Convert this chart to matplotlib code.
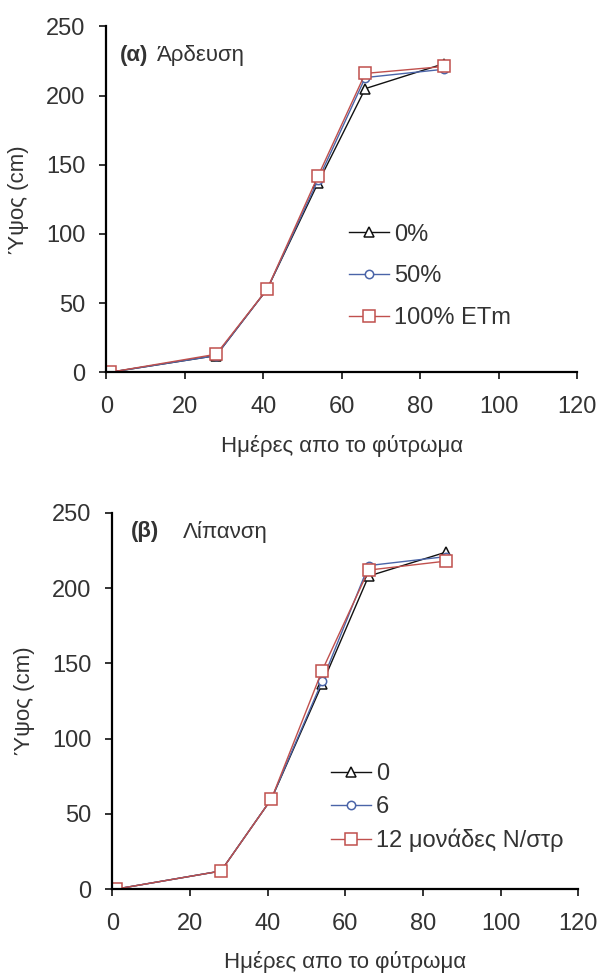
#!/usr/bin/env python3
"""Plant height vs days from emergence under irrigation and fertilisation."""
import matplotlib as mpl
import matplotlib.pyplot as plt

days = [1, 28, 41, 54, 66, 86]

# panel (a): irrigation
irr_labels = ["0%", "50%", "100% ETm"]
irr_0 = [0, 12, 60, 137, 205, 223]
irr_50 = [0, 12, 60, 139, 213, 219]
irr_100 = [0, 13, 60, 142, 216, 221]

# panel (b): fertilisation
fert_labels = ["0", "6", "12 μονάδες N/στρ"]
fert_0 = [0, 12, 60, 136, 208, 224]
fert_6 = [0, 12, 60, 138, 215, 221]
fert_12 = [0, 12, 60, 145, 212, 218]

x_ticks = [0, 20, 40, 60, 80, 100, 120]
y_ticks = [0, 50, 100, 150, 200, 250]

mpl.rcParams.update(
    {
        "font.family": ["Liberation Sans", "DejaVu Sans"],
        "font.size": 17,
        "axes.linewidth": 1.6,
        "xtick.major.width": 1.2,
        "ytick.major.width": 1.2,
        "xtick.major.size": 5,
        "ytick.major.size": 5,
    }
)

black = "#111111"
blue = "#4a64a8"
red = "#c0504d"
text_col = "#333333"


def draw(ax, series, labels, leg_anchor, leg_spacing):
    styles = [
        (black, "^", 7.5),
        (blue, "o", 6),
        (red, "s", 8),
    ]
    for vals, lab, (col, mk, ms) in zip(series, labels, styles):
        ax.plot(days, vals, color=col, lw=1.0, marker=mk, ms=ms,
                mfc="white", mec=col, mew=1.1, label=lab)
    ax.set_xlim(0, 120)
    ax.set_ylim(0, 250)
    ax.set_xticks(x_ticks)
    ax.set_yticks(y_ticks)
    ax.spines["top"].set_visible(False)
    ax.spines["right"].set_visible(False)
    ax.tick_params(colors=black, labelcolor=text_col, labelsize=17)
    ax.tick_params(axis="x", pad=12)
    ax.tick_params(axis="y", pad=10)
    ax.set_xlabel("Ημέρες απο το φύτρωμα", fontsize=16, color=text_col, labelpad=12)
    ax.set_ylabel("Ύψος (cm)", fontsize=16, color=text_col, labelpad=12)
    ax.legend(frameon=False, loc="upper left", bbox_to_anchor=leg_anchor,
              borderpad=0, borderaxespad=0, handlelength=1.7, handletextpad=0.2,
              labelspacing=leg_spacing, fontsize=17, labelcolor=text_col)


fig = plt.figure(figsize=(6.0, 9.77), dpi=100)
ax_a = fig.add_axes([0.177, 0.619, 0.785, 0.354])
ax_b = fig.add_axes([0.187, 0.090, 0.777, 0.385])

draw(ax_a, [irr_0, irr_50, irr_100], irr_labels, (0.515, 0.43), 0.84)
draw(ax_b, [fert_0, fert_6, fert_12], fert_labels, (0.47, 0.335), 0.46)

ax_a.text(0.03, 0.916, "(α)", transform=ax_a.transAxes, fontsize=16,
          fontweight="bold", va="center", color=text_col)
ax_a.text(0.107, 0.916, "Άρδευση", transform=ax_a.transAxes, fontsize=16,
          va="center", color=text_col)
ax_b.text(0.039, 0.95, "(β)", transform=ax_b.transAxes, fontsize=16,
          fontweight="bold", va="center", color=text_col)
ax_b.text(0.152, 0.95, "Λίπανση", transform=ax_b.transAxes, fontsize=16,
          va="center", color=text_col)

fig.savefig("out.png", dpi=100)
